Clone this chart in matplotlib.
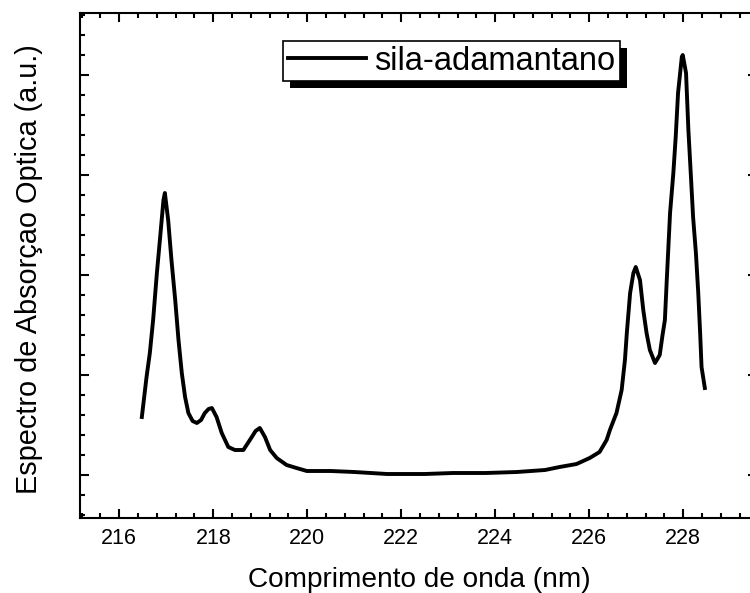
import matplotlib
matplotlib.use("Agg")
import matplotlib.pyplot as plt
from matplotlib.patches import Rectangle
from matplotlib.ticker import MultipleLocator, NullFormatter

plt.rcParams["font.family"] = ["Liberation Sans", "DejaVu Sans"]

# Optical absorption spectrum of sila-adamantane (arbitrary units)
wavelength = [
    216.48, 216.58, 216.65, 216.72, 216.80, 216.87, 216.94, 216.97,
    217.04, 217.11, 217.19, 217.26, 217.33, 217.40, 217.47, 217.56,
    217.65, 217.74, 217.82, 217.90, 217.97, 218.07, 218.18, 218.32,
    218.46, 218.64, 218.82, 218.90, 218.99, 219.10, 219.21, 219.35,
    219.56, 219.77, 219.99, 220.50, 221.00, 221.70, 222.50, 223.10,
    223.80, 224.46, 225.06, 225.37, 225.73, 226.01, 226.22, 226.37,
    226.44, 226.58, 226.69, 226.76, 226.80, 226.87, 226.94, 226.99,
    227.08, 227.15, 227.22, 227.29, 227.40, 227.50, 227.56, 227.61,
    227.65, 227.72, 227.79, 227.84, 227.89, 227.97, 227.99, 228.06,
    228.11, 228.16, 228.21, 228.27, 228.32, 228.36, 228.39, 228.46,
]
absorbance = [
    0.58, 0.98, 1.22, 1.55, 2.02, 2.38, 2.75, 2.82,
    2.55, 2.15, 1.75, 1.35, 1.02, 0.78, 0.62, 0.54,
    0.52, 0.55, 0.62, 0.66, 0.67, 0.58, 0.42, 0.28,
    0.25, 0.25, 0.38, 0.44, 0.47, 0.38, 0.25, 0.17,
    0.10, 0.07, 0.04, 0.04, 0.03, 0.01, 0.01, 0.02,
    0.02, 0.03, 0.05, 0.08, 0.11, 0.17, 0.23, 0.35,
    0.45, 0.62, 0.85, 1.15, 1.42, 1.82, 2.02, 2.08,
    1.95, 1.65, 1.42, 1.25, 1.12, 1.20, 1.40, 1.55,
    1.95, 2.62, 3.02, 3.38, 3.82, 4.18, 4.20, 4.02,
    3.45, 3.02, 2.58, 2.22, 1.82, 1.42, 1.08, 0.87,
]
series_label = "sila-adamantano"

fig = plt.figure(figsize=(7.5, 5.93), dpi=100)
ax = fig.add_axes([80 / 750, 75 / 593, 677 / 750, 505 / 593])

ax.plot(wavelength, absorbance, color="black", lw=2.8, label=series_label)

ax.set_xlim(215.164, 229.57)
ax.set_ylim(-0.43, 4.62)

ax.xaxis.set_major_locator(MultipleLocator(2))
ax.xaxis.set_minor_locator(MultipleLocator(0.4))
ax.yaxis.set_major_locator(MultipleLocator(1))
ax.yaxis.set_minor_locator(MultipleLocator(0.2))
ax.yaxis.set_major_formatter(NullFormatter())

ax.tick_params(which="both", direction="in", top=True, right=True, width=1.5)
ax.tick_params(which="major", length=6.5)
ax.tick_params(which="minor", length=3.6)
ax.tick_params(axis="x", labelsize=15.5, pad=7)
for spine in ax.spines.values():
    spine.set_linewidth(1.5)

fig.text(419 / 750, 6 / 593, "Comprimento de onda (nm)", fontsize=20.2,
         ha="center", va="baseline")
fig.text(29 / 750, (593 - 269) / 593, "Espectro de Absorçao Optica (a.u.)",
         fontsize=20.8, rotation=90, ha="center", va="center")

leg = ax.legend(loc="upper left", bbox_to_anchor=((283 - 80) / 677, (518 - 41) / 505),
                borderaxespad=0, fontsize=23.5, fancybox=False, framealpha=1,
                edgecolor="black", handlelength=2.4, handletextpad=0.25,
                borderpad=0.14)
leg.get_frame().set_linewidth(1.2)

# solid drop shadow behind the legend box
fig.canvas.draw()
bb = leg.get_window_extent()
inv = ax.transAxes.inverted()
(x0, y0), (x1, y1) = inv.transform([[bb.x0 + 7, bb.y0 - 7], [bb.x1 + 7, bb.y1 - 7]])
ax.add_patch(Rectangle((x0, y0), x1 - x0, y1 - y0, transform=ax.transAxes,
                       facecolor="black", edgecolor="none", zorder=4.9,
                       clip_on=False))

fig.savefig("out.png", dpi=100)
